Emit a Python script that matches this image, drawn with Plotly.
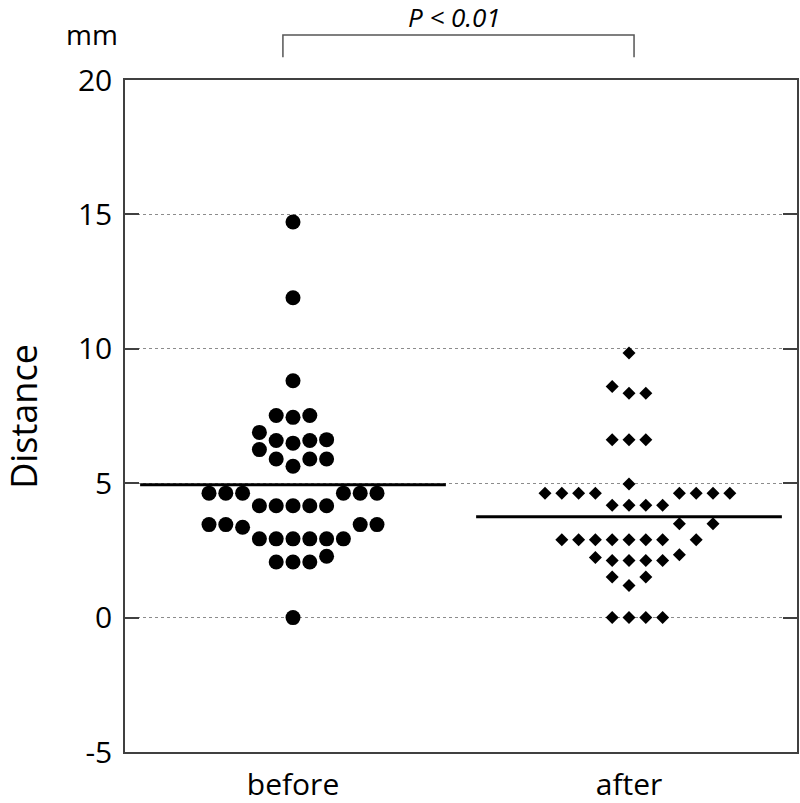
import plotly.graph_objects as go

# data (mm)
categories = ["before", "after"]

before = [14.72, 11.90, 8.81, 7.52, 7.45, 7.52, 6.89, 6.62, 6.49, 6.59, 6.59,
          6.25, 5.90, 5.63, 5.90, 5.90,
          4.63, 4.63, 4.63, 4.63, 4.63, 4.63,
          4.16, 4.16, 4.16, 4.16, 4.16,
          3.46, 3.46, 3.36, 3.46, 3.46,
          2.93, 2.93, 2.93, 2.93, 2.93, 2.93,
          2.28, 2.07, 2.07, 2.07, 0.00]

after = [9.84, 8.60, 8.35, 8.35, 6.62, 6.62, 6.62, 4.97,
         4.63, 4.63, 4.63, 4.63, 4.63, 4.63, 4.63, 4.63,
         4.18, 4.18, 4.18, 4.18, 3.49, 3.49,
         2.90, 2.90, 2.90, 2.90, 2.90, 2.90, 2.90, 2.90,
         2.24, 2.12, 2.12, 2.12, 2.12, 2.34,
         1.51, 1.19, 1.51, 0.00, 0.00, 0.00, 0.00]

y_ticks = [-5, 0, 5, 10, 15, 20]
y_ticktext = ["-5", "0", "5", "10", "15", "20"]
p_label = "<i>P &lt; 0.01</i>"
unit_label = "mm"
y_title = "Distance"

FONT = "Open Sans"
SLOT = 0.05  # horizontal step between neighbouring dots (category units)


def swarm(values, gap):
    """Simple dot-plot layout: centre first, then +1, -1, +2, -2 ... slots."""
    placed = []
    offsets = [0.0] * len(values)
    for i in sorted(range(len(values)), key=lambda j: values[j]):
        k = 0
        while True:
            s = (k + 1) // 2 if k % 2 else -(k // 2)
            if all(ps != s or abs(pv - values[i]) >= gap for ps, pv in placed):
                break
            k += 1
        placed.append((s, values[i]))
        offsets[i] = s * SLOT
    return offsets


fig = go.Figure()

groups = [
    (before, "circle", 15, 0.63),
    (after, "diamond", 10, 0.60),
]

for i, (vals, symbol, size, gap) in enumerate(groups):
    offs = swarm(vals, gap)
    fig.add_trace(go.Scatter(
        x=[i + o for o in offs], y=vals,
        mode="markers",
        marker=dict(symbol=symbol, size=size, color="black", line=dict(width=0)),
        hoverinfo="y", showlegend=False,
    ))
    mean = sum(vals) / len(vals)
    fig.add_trace(go.Scatter(
        x=[i - 0.455, i + 0.455], y=[mean, mean],
        mode="lines", line=dict(color="black", width=3),
        hoverinfo="skip", showlegend=False,
    ))

fig.update_layout(
    width=800, height=803,
    margin=dict(l=125, r=3, t=80, b=51),
    plot_bgcolor="white", paper_bgcolor="white",
    font=dict(family=FONT, color="black"),
    xaxis=dict(
        range=[-0.5, 1.5], tickvals=[0, 1], ticktext=categories,
        showline=True, mirror=True, linecolor="#404040", linewidth=1.5,
        showgrid=False, zeroline=False, ticks="", automargin=False,
        tickfont=dict(size=30), ticklabelstandoff=5,
    ),
    yaxis=dict(
        range=[-5, 20], tickvals=y_ticks, ticktext=y_ticktext,
        showline=True, mirror="ticks", linecolor="#404040", linewidth=1.5,
        ticks="inside", ticklen=14, tickwidth=1.5, tickcolor="#404040",
        showgrid=True, gridcolor="#8c8c8c", griddash="dot", gridwidth=1,
        zeroline=False, automargin=False,
        tickfont=dict(size=30), ticklabelstandoff=5,
    ),
)

# y axis title, unit and significance label
fig.add_annotation(text=y_title, xref="paper", yref="paper", x=-0.152, y=0.50,
                   xanchor="center", yanchor="middle",
                   textangle=-90, showarrow=False, font=dict(size=36))
fig.add_annotation(text=unit_label, xref="paper", yref="paper", x=-0.049, y=1.068,
                   xanchor="center", yanchor="middle",
                   showarrow=False, font=dict(size=28))
fig.add_annotation(text=p_label, xref="paper", yref="paper", x=0.491, y=1.094,
                   xanchor="center", yanchor="middle",
                   showarrow=False, font=dict(size=26))

# bracket between the two groups
fig.add_shape(type="path", xref="x", yref="paper",
              path="M -0.03,1.034 L -0.03,1.067 L 1.015,1.067 L 1.015,1.034",
              line=dict(color="#555555", width=1.5))

# drop the default 8px page margin so the figure fills the window exactly
fig.write_html("out.html", config={"displayModeBar": False},
               post_script="document.body.style.margin = '0';")
